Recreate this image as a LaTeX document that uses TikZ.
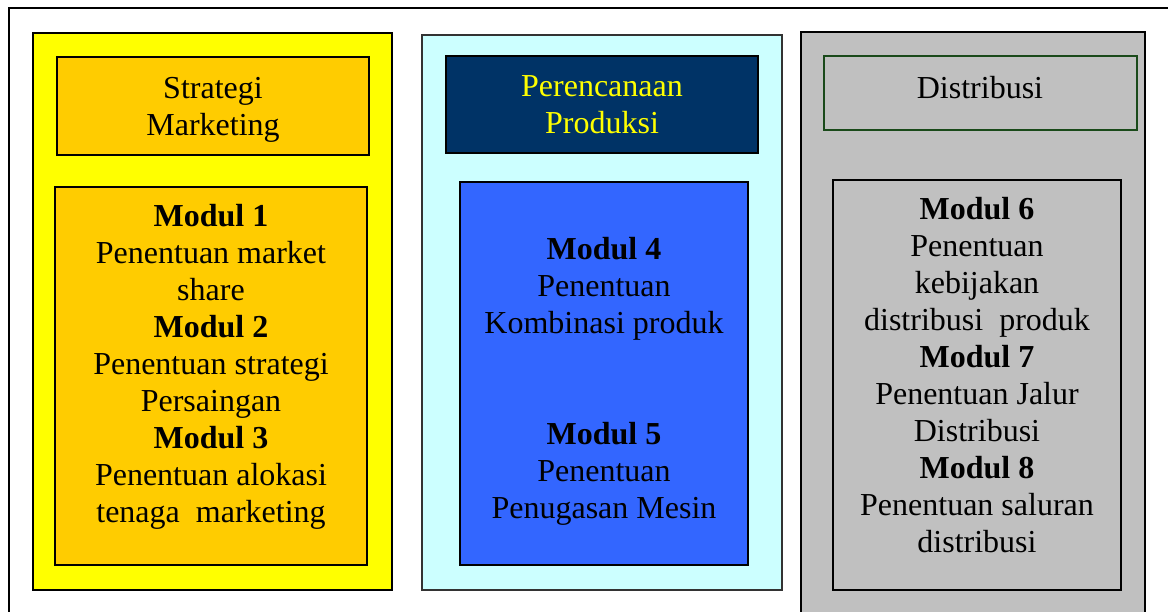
\documentclass[tikz,border=0pt]{standalone}
\usepackage{fontspec}
\setmainfont{Liberation Serif}
\definecolor{panelyellow}{HTML}{FFFF00}
\definecolor{titleorange}{HTML}{FFCC00}
\definecolor{panelcyan}{HTML}{CCFFFF}
\definecolor{titlenavy}{HTML}{003366}
\definecolor{modulblue}{HTML}{3366FF}
\definecolor{panelgrey}{HTML}{C0C0C0}
\definecolor{titlegreen}{HTML}{1A4A1A}

\begin{document}
\begin{tikzpicture}
    [x=1pt,y=-1pt,
     panel/.style={draw=black,line width=2pt},
     box/.style={draw=black,line width=1.5pt},
     txt/.style={align=center,inner sep=0pt,font=\fontsize{32}{37}\selectfont}]
    \useasboundingbox (0,0) rectangle (1168,612);
    \draw [line width=2.5pt] (9,613) -- (9,8) -- (1169,8);
    % marketing column
    \draw [panel,fill=panelyellow] (33,33) rectangle (392,590);
    \draw [box,fill=titleorange] (57,57) rectangle (369,155);
    \draw [box,fill=titleorange] (55,187) rectangle (367,565);
    \node (strategi) at (213,109.5) [txt] {Strategi\\Marketing};
    \node (modmkt) at (211,367) [txt]
      {\textbf{Modul 1}\\Penentuan market\\share\\
       \textbf{Modul 2}\\Penentuan strategi\\Persaingan\\
       \textbf{Modul 3}\\Penentuan alokasi\\tenaga~ marketing};
    % production column
    \draw [panel,fill=panelcyan,draw=black!80] (422,35) rectangle (782,590);
    \draw [box,fill=titlenavy] (446,56) rectangle (758,153);
    \draw [box,fill=modulblue] (460,182) rectangle (748,565);
    \node (produksi) at (602,105) [txt,text=panelyellow] {Perencanaan\\Produksi};
    \node (modfour) at (604,288.5) [txt]
      {\textbf{Modul 4}\\Penentuan\\Kombinasi produk};
    \node (modfive) at (604,473.5) [txt]
      {\textbf{Modul 5}\\Penentuan\\Penugasan Mesin};
    % distribution column
    \fill [panelgrey] (801,32) rectangle (1145,613);
    \draw [panel] (801,613) -- (801,32) -- (1145,32) -- (1145,613);
    \draw [line width=2pt,draw=titlegreen] (824,56) rectangle (1137,130);
    \draw [box] (833,180) rectangle (1121,590);
    \node (distribusi) at (980,88) [txt] {Distribusi};
    \node (moddist) at (977,375) [txt]
      {\textbf{Modul 6}\\Penentuan\\kebijakan\\distribusi~ produk\\
       \textbf{Modul 7}\\Penentuan Jalur\\Distribusi\\
       \textbf{Modul 8}\\Penentuan saluran\\distribusi};
  \end{tikzpicture}
\end{document}
